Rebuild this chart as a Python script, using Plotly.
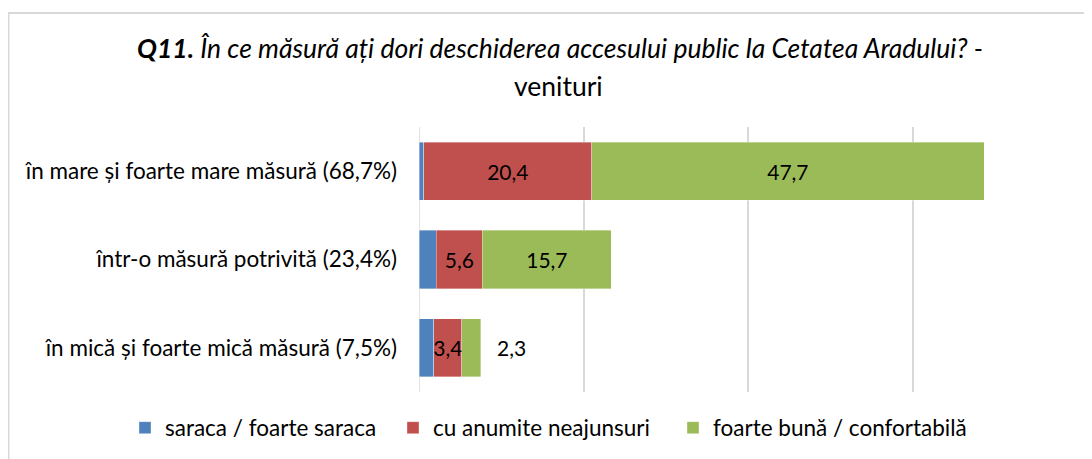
import plotly.graph_objects as go

categories = [
    "în mare și foarte mare măsură (68,7%)",
    "într-o măsură potrivită (23,4%)",
    "în mică și foarte mică măsură (7,5%)",
]
series_names = ["saraca / foarte saraca", "cu anumite neajunsuri", "foarte bună / confortabilă"]
saraca = [0.6, 2.1, 1.8]
neajunsuri = [20.4, 5.6, 3.4]
buna = [47.7, 15.7, 2.3]
colors = ["#4F81BD", "#C0504D", "#9BBB59"]
x_ticks = [0, 20, 40, 60, 80]

FONT = "Lato"
OFF = 8                      # page body margin of the html page
W, H = 1092 - OFF, 459 - OFF
# plot area in reference-screen pixels
RL, RR, RT, RB = 419, 1077, 127, 392
PL, PR, PT, PB = RL - OFF, RR - OFF, RT - OFF, RB - OFF
PW, PH = PR - PL, PB - PT


def px_x(px):      # reference screen px -> paper x
    return (px - OFF - PL) / PW


def px_y(py):      # reference screen px -> paper y
    return (PB - (py - OFF)) / PH


def cx(px):        # reference screen px -> container x
    return (px - OFF) / W


def cy(py):        # reference screen px -> container y
    return (H - (py - OFF)) / H


fig = go.Figure()
series = [saraca, neajunsuri, buna]
legend_ids = ["legend", "legend2", "legend3"]
for i, (name, vals, col) in enumerate(zip(series_names, series, colors)):
    if i == 0:
        texts = None
    elif i == 2:
        texts = [f"{v:.1f}".replace(".", ",") for v in vals[:-1]] + [""]
    else:
        texts = [f"{v:.1f}".replace(".", ",") for v in vals]
    fig.add_trace(go.Bar(
        y=categories, x=vals, name=name, orientation="h",
        marker=dict(color=col, line=dict(color="rgba(255,255,255,0.6)", width=0.6)),
        text=texts, textposition="inside" if texts else "none",
        insidetextanchor="middle", constraintext="none", textangle=0,
        textfont=dict(family=FONT, size=21, color="black"),
        hoverinfo="skip", legend=legend_ids[i],
    ))

# label for the small green segment, placed to the right of the bar end
tot_last = saraca[-1] + neajunsuri[-1] + buna[-1]
fig.add_annotation(
    x=tot_last, y=categories[-1], xref="x", yref="y",
    text=f"{buna[-1]:.1f}".replace(".", ","), showarrow=False,
    xanchor="left", xshift=14,
    font=dict(family=FONT, size=21, color="black"),
)

# title
fig.add_annotation(
    x=px_x(560), y=px_y(48), xref="paper", yref="paper",
    text="<b><i>Q11.</i></b><i> În ce măsură ați dori deschiderea accesului public la Cetatea Aradului? -</i>",
    showarrow=False, xanchor="center", yanchor="middle",
    font=dict(family=FONT, size=26.5, color="black"),
)
fig.add_annotation(
    x=px_x(558), y=px_y(86), xref="paper", yref="paper",
    text="venituri", showarrow=False, xanchor="center", yanchor="middle",
    font=dict(family=FONT, size=26.5, color="black"),
)

# chart border (top and left visible); figure starts at screen x=8
left_x = -PL / PW + 0.5 / PW
fig.add_shape(type="rect", xref="paper", yref="paper", layer="below",
              x0=left_x, x1=(W + 20 - PL) / PW, y0=-PB / PH - 0.2, y1=px_y(13),
              line=dict(color="#D9D9D9", width=2), fillcolor="rgba(0,0,0,0)")

legend_text_x = [165, 433, 713]
legend_common = dict(orientation="h", xref="container", yref="container",
                     xanchor="left", yanchor="middle", y=cy(428),
                     font=dict(family=FONT, size=22.5, color="black"),
                     itemwidth=30, bgcolor="rgba(0,0,0,0)")
legends = {}
for lid, tx in zip(legend_ids, legend_text_x):
    legends[lid] = dict(legend_common, x=cx(tx - 40))

fig.update_layout(
    width=W, height=H,
    margin=dict(l=PL, r=W - PR, t=PT, b=H - PB, autoexpand=False),
    barmode="stack", bargap=0.34,
    separators=",.",
    plot_bgcolor="rgba(0,0,0,0)", paper_bgcolor="white",
    font=dict(family=FONT, size=22.5, color="black"),
    showlegend=True,
    xaxis=dict(range=[0, 80], tickvals=x_ticks, showticklabels=False,
               showgrid=True, gridcolor="#D9D9D9", gridwidth=1.5,
               zeroline=False, showline=False, fixedrange=True, automargin=False),
    yaxis=dict(categoryorder="array", categoryarray=categories, autorange="reversed",
               showgrid=False, zeroline=False, showline=False, ticks="",
               automargin=False, ticklabelstandoff=21,
               tickfont=dict(family=FONT, size=22.5, color="black")),
    **legends,
)
fig.add_vline(x=0, line=dict(color="#D9D9D9", width=1.5), layer="below")

fig.write_html("out.html")
